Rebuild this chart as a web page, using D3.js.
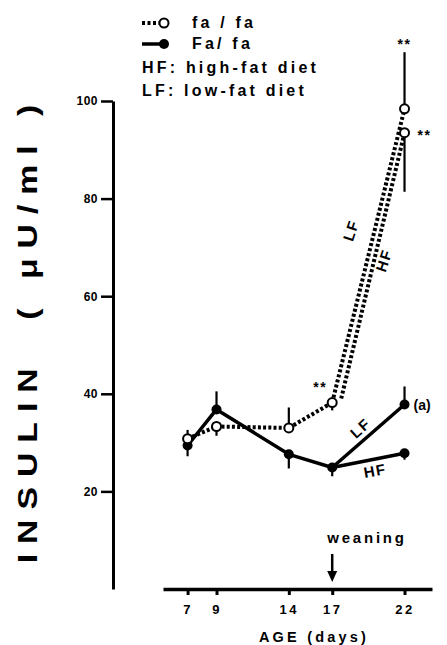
<!DOCTYPE html>
<html>
<head>
<meta charset="utf-8">
<script src="https://cdn.jsdelivr.net/npm/d3@7"></script>
<style>
  body { margin: 0; background: #fff; }
  svg text { font-family: "Liberation Sans", Arial, sans-serif; font-weight: bold; fill: #000; }
</style>
</head>
<body>
<svg id="chart" width="447" height="645"></svg>
<script>
// ages (days) and insulin values (uU/ml)
const ageTicks = [7, 9, 14, 17, 22];
const preAges = [7, 9, 14, 17];
const insulinTicks = [20, 40, 60, 80, 100];

// fa/fa (open circles, dotted)
const obeseMean = [30.8, 33.3, 33.0, 38.2];
const obeseErr = [32.6, 31.4, 37.2, 36.6];
// Fa/fa (filled circles, solid)
const leanMean = [29.4, 36.8, 27.6, 24.9];
const leanErr = [27.2, 40.5, 24.7, 23.1];

// after weaning, day 22, per diet
const diets = ["LF", "HF"];
const obese22 = [98.4, 93.5];
const obese22Err = [110, 81.4];
const lean22 = [37.8, 27.8];
const lean22Err = [41.5, 26.5];

const svg = d3.select("#chart");

const x = d3.scaleLinear().domain([5.3, 23.9]).range([163, 432]);
const y = d3.scaleLinear().domain([0, 100]).range([589, 101]);

// y axis
const yAxis = d3.axisLeft(y).tickValues(insulinTicks).tickSize(12).tickSizeOuter(0);
const gy = svg.append("g").attr("transform", "translate(113,0)").call(yAxis);
gy.select(".domain").attr("stroke-width", 3);
gy.selectAll(".tick line").attr("stroke-width", 2.5);
gy.selectAll(".tick text").attr("x", -15).style("font-size", "12px").style("letter-spacing", "0.5px");

// x axis
const xAxis = d3.axisBottom(x).tickValues(ageTicks).tickSize(6).tickSizeOuter(0);
const gx = svg.append("g").attr("transform", "translate(0,589)").call(xAxis);
gx.select(".domain").attr("stroke-width", 3.5);
gx.selectAll(".tick line").attr("stroke-width", 3);
gx.selectAll(".tick text").attr("y", 16).style("font-size", "13px").style("letter-spacing", "2.5px");

svg.append("text")
  .attr("x", 314).attr("y", 642)
  .attr("text-anchor", "middle")
  .style("font-size", "14.5px").style("letter-spacing", "3.2px")
  .text("AGE (days)");

// y title: the print uses a wide face, so stretch along the text
svg.append("text")
  .attr("transform", "translate(37,329) rotate(-90) scale(1.25,1)")
  .attr("text-anchor", "middle")
  .style("white-space", "pre")
  .style("font-size", "27px").style("letter-spacing", "8px")
  .text("INSULIN  ( μU/ml )");

// weaning marker
svg.append("text")
  .attr("x", 367).attr("y", 543)
  .attr("text-anchor", "middle")
  .style("font-size", "15px").style("letter-spacing", "2.8px")
  .text("weaning");
svg.append("line")
  .attr("x1", x(17)).attr("x2", x(17))
  .attr("y1", 554).attr("y2", 574)
  .attr("stroke", "#000").attr("stroke-width", 2.5);
svg.append("path")
  .attr("d", `M${x(17) - 5},571 L${x(17) + 5},571 L${x(17)},582 Z`)
  .attr("fill", "#000");

const line = d3.line().x(d => x(d[0])).y(d => y(d[1]));
const dash = "3,2.2";

function drawErr(age, mean, end) {
  svg.append("line")
    .attr("x1", x(age)).attr("x2", x(age))
    .attr("y1", y(mean)).attr("y2", y(end))
    .attr("stroke", "#000").attr("stroke-width", 2.2);
}

// error bars first so the markers sit on top
preAges.forEach((a, i) => { drawErr(a, obeseMean[i], obeseErr[i]); drawErr(a, leanMean[i], leanErr[i]); });
diets.forEach((d, i) => { drawErr(22, obese22[i], obese22Err[i]); drawErr(22, lean22[i], lean22Err[i]); });

// fa/fa dotted lines; the two diet lines run side by side as in the print
const obesePts = preAges.map((a, i) => [a, obeseMean[i]]);
diets.forEach((d, i) => {
  const start = [x(17) + i * 9, y(obeseMean[3]) - i * 4];
  svg.append("path")
    .attr("d", d3.line()([start, [x(22), y(obese22[i])]]))
    .attr("fill", "none").attr("stroke", "#000")
    .attr("stroke-dasharray", dash).attr("stroke-width", 4);
});
svg.append("path")
  .attr("d", line(obesePts))
  .attr("fill", "none").attr("stroke", "#000")
  .attr("stroke-dasharray", dash).attr("stroke-width", 4);

// Fa/fa solid lines
const leanPts = preAges.map((a, i) => [a, leanMean[i]]);
svg.append("path")
  .attr("d", line(leanPts))
  .attr("fill", "none").attr("stroke", "#000").attr("stroke-width", 3.5)
  .attr("stroke-linejoin", "round");
diets.forEach((d, i) => {
  svg.append("path")
    .attr("d", line([leanPts[3], [22, lean22[i]]]))
    .attr("fill", "none").attr("stroke", "#000").attr("stroke-width", 3.5);
});

// markers
const leanAll = leanPts.concat(diets.map((d, i) => [22, lean22[i]]));
svg.selectAll("circle.lean").data(leanAll).enter().append("circle")
  .attr("class", "lean")
  .attr("cx", d => x(d[0])).attr("cy", d => y(d[1]))
  .attr("r", 5).attr("fill", "#000");

const obeseAll = obesePts.concat(diets.map((d, i) => [22, obese22[i]]));
svg.selectAll("circle.obese").data(obeseAll).enter().append("circle")
  .attr("class", "obese")
  .attr("cx", d => x(d[0])).attr("cy", d => y(d[1]))
  .attr("r", 4.5).attr("fill", "#fff").attr("stroke", "#000").attr("stroke-width", 2);

// diet labels along the lines
function label(txt, px, py, angle, size) {
  svg.append("text")
    .attr("transform", `translate(${px},${py}) rotate(${angle})`)
    .attr("text-anchor", "middle")
    .style("font-size", size + "px").style("letter-spacing", "1.5px")
    .text(txt);
}
label("LF", 356, 232, -72, 15);
label("HF", 389, 262, -72, 15);
label("LF", 364, 432, -42, 15);
label("HF", 376, 476, -10, 15);

// significance marks
function stars(px, py) {
  svg.append("text")
    .attr("x", px).attr("y", py)
    .attr("text-anchor", "middle")
    .style("font-size", "14px").style("letter-spacing", "1.5px")
    .text("**");
}
stars(x(22), y(obese22Err[0]) - 3);
stars(x(22) + 20, y(obese22[1]) + 7);
stars(x(17) - 12, y(obeseMean[3]) - 11);

svg.append("text")
  .attr("x", x(22) + 9).attr("y", y(lean22[0]) + 5)
  .style("font-size", "14px")
  .text("(a)");

// legend
const legend = svg.append("g");
legend.append("line")
  .attr("x1", 142).attr("x2", 159).attr("y1", 23).attr("y2", 23)
  .attr("stroke", "#000").attr("stroke-width", 4).attr("stroke-dasharray", "3,2.5");
legend.append("circle")
  .attr("cx", 164).attr("cy", 23).attr("r", 4.5)
  .attr("fill", "#fff").attr("stroke", "#000").attr("stroke-width", 2);
legend.append("line")
  .attr("x1", 142).attr("x2", 162).attr("y1", 44).attr("y2", 44)
  .attr("stroke", "#000").attr("stroke-width", 3.5);
legend.append("circle")
  .attr("cx", 164).attr("cy", 44).attr("r", 5).attr("fill", "#000");

const legendRows = [
  { x: 192, y: 28, t: "fa / fa" },
  { x: 192, y: 49, t: "Fa/ fa" },
  { x: 142, y: 73, t: "HF: high-fat diet" },
  { x: 142, y: 96, t: "LF: low-fat diet" }
];
legend.selectAll("text").data(legendRows).enter().append("text")
  .attr("x", d => d.x).attr("y", d => d.y)
  .style("font-size", "16px").style("letter-spacing", "3.2px")
  .text(d => d.t);
</script>
</body>
</html>
